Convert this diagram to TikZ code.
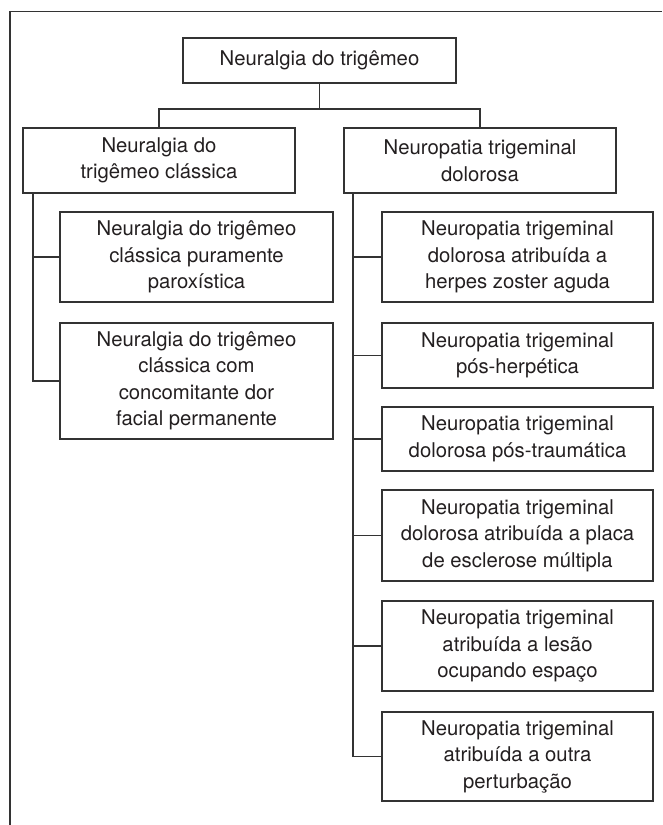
\documentclass[tikz,border=0pt]{standalone}
\usepackage{fontspec}
\setmainfont{TeX Gyre Heros}
\definecolor{ink}{HTML}{231F20}
\definecolor{edge}{HTML}{333333}
\begin{document}
\begin{tikzpicture}[x=1pt,y=-1pt,
  box/.style={draw=edge,line width=1.2pt,rectangle,inner sep=0pt,align=center,
    text=ink,font=\fontsize{20.3}{26.5}\selectfont},
  link/.style={draw=edge,line width=1.2pt}]
\useasboundingbox (0,0) rectangle (662,825);
\fill[white] (0,0) rectangle (662,825);
% frame (top and left sides only)
\coordinate (f1) at (662,11.7);
\coordinate (f0) at (10,11.7);
\coordinate (f2) at (10,825);
\draw[link] (f1) -- (f0) -- (f2);
% nodes
\node[box,minimum width=273pt,minimum height=45pt] (top) at (319.5,60.5) {Neuralgia do trigêmeo};
\node[box,minimum width=272pt,minimum height=65pt] (L) at (159,160.5) {Neuralgia do\\trigêmeo clássica};
\node[box,minimum width=272pt,minimum height=65pt] (R) at (480,160.5) {Neuropatia trigeminal\\dolorosa};
\node[box,minimum width=273pt,minimum height=90pt] (L1) at (196.5,257) {Neuralgia do trigêmeo\\clássica puramente\\paroxística};
\node[box,minimum width=273pt,minimum height=116pt] (L2) at (196.5,381) {Neuralgia do trigêmeo\\clássica com\\concomitante dor\\facial permanente};
\node[box,minimum width=271pt,minimum height=90pt] (R1) at (517.5,257) {Neuropatia trigeminal\\dolorosa atribuída a\\herpes zoster aguda};
\node[box,minimum width=271pt,minimum height=65pt] (R2) at (517.5,355.5) {Neuropatia trigeminal\\pós-herpética};
\node[box,minimum width=271pt,minimum height=64pt] (R3) at (517.5,439) {Neuropatia trigeminal\\dolorosa pós-traumática};
\node[box,minimum width=271pt,minimum height=91pt] (R4) at (517.5,535.5) {Neuropatia trigeminal\\dolorosa atribuída a placa\\de esclerose múltipla};
\node[box,minimum width=271pt,minimum height=90pt] (R5) at (517.5,646) {Neuropatia trigeminal\\atribuída a lesão\\ocupando espaço};
\node[box,minimum width=271pt,minimum height=89pt] (R6) at (517.5,756.5) {Neuropatia trigeminal\\atribuída a outra\\perturbação};
% connectors
\coordinate (hy) at (0,109);
\coordinate (lv) at (33,0);
\coordinate (rv) at (353,0);
\draw[link] (top.south) -- (top.south |- hy);
\draw[link] (L.north) -- (L.north |- hy) -- (R.north |- hy) -- (R.north);
\draw[link] (L.south -| lv) -- (lv |- L2.west) -- (L2.west);
\draw[link] (lv |- L1.west) -- (L1.west);
\draw[link] (R.south -| rv) -- (rv |- R6.west) -- (R6.west);
\foreach \n in {R1,R2,R3,R4,R5} \draw[link] (rv |- \n.west) -- (\n.west);
\end{tikzpicture}
\end{document}
